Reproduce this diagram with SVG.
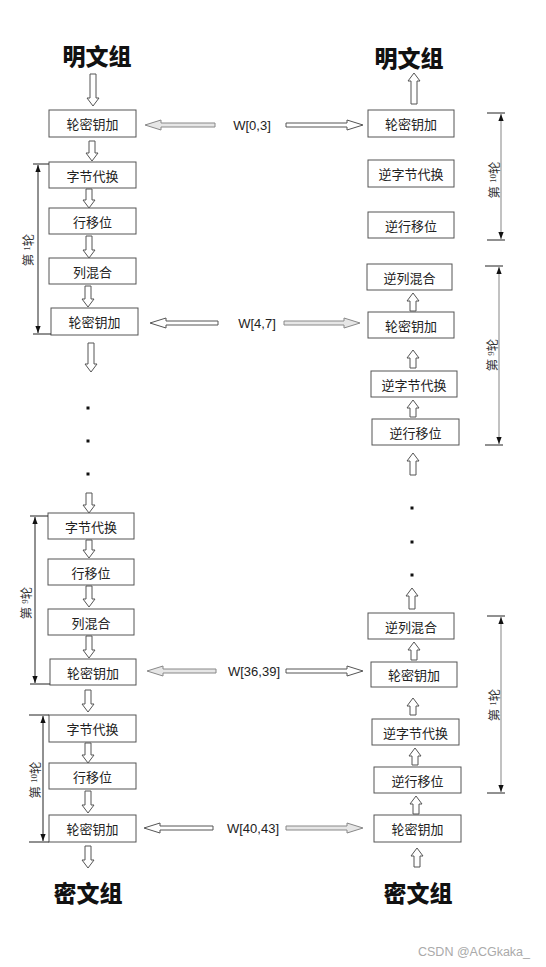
<svg xmlns="http://www.w3.org/2000/svg" width="546" height="967" viewBox="0 0 546 967">
<style>
.box rect{fill:#fff;stroke:#555;stroke-width:1}
.box text{font-family:"Noto Sans CJK SC","Liberation Sans",sans-serif;font-size:13px;fill:#222;text-anchor:middle;dominant-baseline:central}
.title text{font-family:"Noto Sans CJK SC","Liberation Sans",sans-serif;font-size:23px;font-weight:900;fill:#111;text-anchor:middle;dominant-baseline:central}
.arr{fill:#fff;stroke:#555;stroke-width:1;stroke-linejoin:miter}
.arrg{fill:#e6e6e6;stroke:#888;stroke-width:1}
.wl{font-family:"Liberation Sans",Arial,sans-serif;font-size:13px;fill:#222;text-anchor:middle;dominant-baseline:central}
.br{stroke:#222;stroke-width:1;fill:none}
.brg{stroke:#999;stroke-width:1.2;fill:none}
.tick{stroke:#222;stroke-width:1}
.rl{font-family:"Noto Sans CJK SC","Liberation Sans",sans-serif;font-size:12.5px;fill:#333;text-anchor:middle;dominant-baseline:central}
.rl tspan{font-family:"Liberation Serif",serif;font-size:9px}
.dot{fill:#111}
.wm{font-family:"Liberation Sans",Arial,sans-serif;font-size:12.5px;fill:#aaa}
</style>
<defs>
<marker id="mh" viewBox="0 0 8 8" refX="8" refY="4" markerWidth="7" markerHeight="7" markerUnits="userSpaceOnUse" orient="auto">
<path d="M0,1 L8,4 L0,7 Z" fill="#111"/>
</marker>
</defs>

<g id="titles" class="title">
<g id="t-plain-l"><text x="97" y="55">明文组</text></g>
<g id="t-plain-r"><text x="409" y="57">明文组</text></g>
<g id="t-cipher-l"><text x="88" y="892">密文组</text></g>
<g id="t-cipher-r"><text x="418" y="892">密文组</text></g>
</g>

<g id="left-nodes" class="box">
<g id="L1"><rect x="49" y="110" width="87" height="27"/><text x="92.5" y="123.5">轮密钥加</text></g>
<g id="L2"><rect x="49" y="162" width="87" height="26"/><text x="92.5" y="175">字节代换</text></g>
<g id="L3"><rect x="49" y="208" width="87" height="26"/><text x="92.5" y="221">行移位</text></g>
<g id="L4"><rect x="49" y="258" width="87" height="26"/><text x="92.5" y="271">列混合</text></g>
<g id="L5"><rect x="51" y="308" width="87" height="27"/><text x="94.5" y="321.5">轮密钥加</text></g>
<g id="L6"><rect x="48" y="513" width="86" height="26"/><text x="91" y="526">字节代换</text></g>
<g id="L7"><rect x="48" y="559" width="86" height="26"/><text x="91" y="572">行移位</text></g>
<g id="L8"><rect x="48" y="609" width="86" height="26"/><text x="91" y="622">列混合</text></g>
<g id="L9"><rect x="50" y="659" width="86" height="26"/><text x="93" y="672">轮密钥加</text></g>
<g id="L10"><rect x="49" y="715" width="87" height="27"/><text x="92.5" y="728.5">字节代换</text></g>
<g id="L11"><rect x="49" y="763" width="87" height="26"/><text x="92.5" y="776">行移位</text></g>
<g id="L12"><rect x="49" y="815" width="87" height="27"/><text x="92.5" y="828.5">轮密钥加</text></g>
</g>

<g id="right-nodes" class="box">
<g id="R1"><rect x="368" y="110" width="86" height="27"/><text x="411" y="123.5">轮密钥加</text></g>
<g id="R2"><rect x="368" y="160" width="86" height="27"/><text x="411" y="173.5">逆字节代换</text></g>
<g id="R3"><rect x="368" y="212" width="86" height="26"/><text x="411" y="225">逆行移位</text></g>
<g id="R4"><rect x="367" y="264" width="85" height="26"/><text x="409.5" y="277">逆列混合</text></g>
<g id="R5"><rect x="368" y="312" width="86" height="26"/><text x="411" y="325">轮密钥加</text></g>
<g id="R6"><rect x="371" y="371" width="86" height="26"/><text x="414" y="384">逆字节代换</text></g>
<g id="R7"><rect x="372" y="419" width="87" height="26"/><text x="415.5" y="432">逆行移位</text></g>
<g id="R8"><rect x="368" y="613" width="86" height="26"/><text x="411" y="626">逆列混合</text></g>
<g id="R9"><rect x="371" y="662" width="86" height="25"/><text x="414" y="674.5">轮密钥加</text></g>
<g id="R10"><rect x="372" y="719" width="87" height="26"/><text x="415.5" y="732">逆字节代换</text></g>
<g id="R11"><rect x="374" y="767" width="87" height="26"/><text x="417.5" y="780">逆行移位</text></g>
<g id="R12"><rect x="374" y="815" width="87" height="27"/><text x="417.5" y="828.5">轮密钥加</text></g>
</g>

<g id="connectors">
<path class="arr" d="M90,74 V98 H87 L93,106 L99,98 H96 V74 Z"/>
<path class="arr" d="M89,141 V153 H86 L92,161 L98,153 H95 V141 Z"/>
<path class="arr" d="M86,189 V200 H83 L89,208 L95,200 H92 V189 Z"/>
<path class="arr" d="M86,236 V250 H83 L89,258 L95,250 H92 V236 Z"/>
<path class="arr" d="M85,286 V299 H82 L88,307 L94,299 H91 V286 Z"/>
<path class="arr" d="M88,343 V364 H85 L91,372 L97,364 H94 V343 Z"/>
<path class="arr" d="M86,493 V505 H83 L89,513 L95,505 H92 V493 Z"/>
<path class="arr" d="M86,540 V550 H83 L89,558 L95,550 H92 V540 Z"/>
<path class="arr" d="M86,586 V599 H83 L89,607 L95,599 H92 V586 Z"/>
<path class="arr" d="M86,636 V650 H83 L89,658 L95,650 H92 V636 Z"/>
<path class="arr" d="M85,690 V704 H82 L88,712 L94,704 H91 V690 Z"/>
<path class="arr" d="M85,743 V755 H82 L88,763 L94,755 H91 V743 Z"/>
<path class="arr" d="M85,791 V805 H82 L88,813 L94,805 H91 V791 Z"/>
<path class="arr" d="M85,846 V860 H82 L88,868 L94,860 H91 V846 Z"/>
<path class="arr" d="M411,104 V81 H408 L414,73 L420,81 H417 V104 Z"/>
<path class="arr" d="M410,311 V301 H407 L413,293 L419,301 H416 V311 Z"/>
<path class="arr" d="M410,368 V358 H407 L413,350 L419,358 H416 V368 Z"/>
<path class="arr" d="M410,417 V408 H407 L413,400 L419,408 H416 V417 Z"/>
<path class="arr" d="M410,475 V461 H407 L413,453 L419,461 H416 V475 Z"/>
<path class="arr" d="M409,609 V596 H406 L412,588 L418,596 H415 V609 Z"/>
<path class="arr" d="M411,660 V650 H408 L414,642 L420,650 H417 V660 Z"/>
<path class="arr" d="M410,715 V706 H407 L413,698 L419,706 H416 V715 Z"/>
<path class="arr" d="M412,765 V756 H409 L415,748 L421,756 H418 V765 Z"/>
<path class="arr" d="M413,814 V804 H410 L416,796 L422,804 H419 V814 Z"/>
<path class="arr" d="M414,867 V856 H411 L417,848 L423,856 H420 V867 Z"/>
<path class="arrg" d="M215,123 H161 V120 L145,125 L161,130 V127 H215 Z"/>
<path class="arr" d="M286,123 H347 V120 L363,125 L347,130 V127 H286 Z"/>
<path class="arr" d="M218,321 H166 V318 L150,323 L166,328 V325 H218 Z"/>
<path class="arrg" d="M284,321 H344 V318 L360,323 L344,328 V325 H284 Z"/>
<path class="arrg" d="M216,669 H163 V666 L147,671 L163,676 V673 H216 Z"/>
<path class="arr" d="M286,669 H347 V666 L363,671 L347,676 V673 H286 Z"/>
<path class="arr" d="M213,826 H160 V823 L144,828 L160,833 V830 H213 Z"/>
<path class="arrg" d="M286,826 H347 V823 L363,828 L347,833 V830 H286 Z"/>
</g>

<g id="key-labels">
<text class="wl" x="252" y="125">W[0,3]</text>
<text class="wl" x="257" y="323">W[4,7]</text>
<text class="wl" x="254" y="671">W[36,39]</text>
<text class="wl" x="253" y="828">W[40,43]</text>
</g>

<g id="dots">
<rect class="dot" x="86.5" y="406.5" width="3" height="3"/>
<rect class="dot" x="86.5" y="439.5" width="3" height="3"/>
<rect class="dot" x="86.5" y="472.5" width="3" height="3"/>
<rect class="dot" x="410.5" y="506.5" width="3" height="3"/>
<rect class="dot" x="410.5" y="540.5" width="3" height="3"/>
<rect class="dot" x="410.5" y="573.5" width="3" height="3"/>
</g>

<g id="round-brackets">
<g id="bl1">
<line class="tick" x1="33" y1="164" x2="49" y2="164"/><line class="tick" x1="33" y1="334" x2="51" y2="334"/>
<line class="br" x1="38" y1="249" x2="38" y2="165" marker-end="url(#mh)"/><line class="br" x1="38" y1="249" x2="38" y2="333" marker-end="url(#mh)"/>
<text class="rl" transform="translate(27,250) rotate(-90)">第 <tspan>1</tspan>轮</text>
</g>
<g id="bl9">
<line class="tick" x1="30" y1="516" x2="48" y2="516"/><line class="tick" x1="30" y1="684" x2="50" y2="684"/>
<line class="br" x1="35" y1="600" x2="35" y2="517" marker-end="url(#mh)"/><line class="br" x1="35" y1="600" x2="35" y2="683" marker-end="url(#mh)"/>
<text class="rl" transform="translate(25,603) rotate(-90)">第 <tspan>9</tspan>轮</text>
</g>
<g id="bl10">
<line class="tick" x1="29" y1="715" x2="49" y2="715"/><line class="tick" x1="29" y1="842" x2="49" y2="842"/>
<line class="br" x1="43" y1="778" x2="43" y2="716" marker-end="url(#mh)"/><line class="br" x1="43" y1="778" x2="43" y2="841" marker-end="url(#mh)"/>
<text class="rl" transform="translate(34,780) rotate(-90)">第 <tspan>10</tspan>轮</text>
</g>
<g id="br10">
<line class="tick" x1="487" y1="113" x2="505" y2="113"/><line class="tick" x1="487" y1="240" x2="505" y2="240"/>
<line class="brg" x1="501" y1="176" x2="501" y2="114" marker-end="url(#mh)"/><line class="brg" x1="501" y1="176" x2="501" y2="239" marker-end="url(#mh)"/>
<text class="rl" transform="translate(493,180) rotate(-90)">第 <tspan>10</tspan>轮</text>
</g>
<g id="br9">
<line class="tick" x1="485" y1="266" x2="503" y2="266"/><line class="tick" x1="485" y1="445" x2="503" y2="445"/>
<line class="brg" x1="499" y1="355" x2="499" y2="267" marker-end="url(#mh)"/><line class="brg" x1="499" y1="355" x2="499" y2="444" marker-end="url(#mh)"/>
<text class="rl" transform="translate(491,355) rotate(-90)">第 <tspan>9</tspan>轮</text>
</g>
<g id="br1">
<line class="tick" x1="487" y1="616" x2="505" y2="616"/><line class="tick" x1="487" y1="793" x2="505" y2="793"/>
<line class="brg" x1="501" y1="704" x2="501" y2="617" marker-end="url(#mh)"/><line class="brg" x1="501" y1="704" x2="501" y2="792" marker-end="url(#mh)"/>
<text class="rl" transform="translate(493,705) rotate(-90)">第 <tspan>1</tspan>轮</text>
</g>
</g>

<text class="wm" x="418" y="956">CSDN @ACGkaka_</text>
</svg>
